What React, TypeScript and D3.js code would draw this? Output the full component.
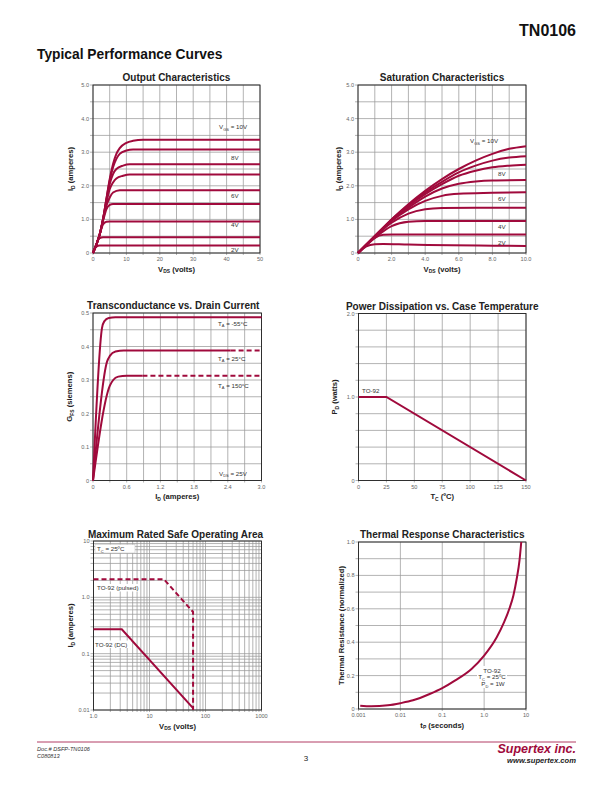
import React from 'react';
import * as d3 from 'd3';

const RED = '#a00a3c';
const GRID = '#999';
const TICK = '#666';
const FONT = '"Liberation Sans", Arial, sans-serif';

type P = [number, number];

// ---------- Output Characteristics (VDS 0..50) ----------
const outX = [0, 10, 20, 30, 40, 50];
const outY = [0, 1, 2, 3, 4, 5];
const out10V: P[] = [[0, 0], [1, 0.25], [2, 0.55], [3, 1.0], [4, 1.6], [5, 2.2], [6, 2.65], [7, 2.95], [8, 3.12], [10, 3.28], [12, 3.34], [15, 3.37], [50, 3.37]];
const out9V: P[] = [[0, 0], [1, 0.25], [2, 0.55], [3, 1.0], [4, 1.6], [5, 2.15], [6, 2.55], [7, 2.8], [8, 2.95], [10, 3.05], [12, 3.08], [50, 3.08]];
const out8V: P[] = [[0, 0], [1, 0.25], [2, 0.55], [3, 1.0], [4, 1.55], [5, 2.05], [6, 2.35], [7, 2.5], [9, 2.6], [11, 2.64], [50, 2.64]];
const out7V: P[] = [[0, 0], [1, 0.25], [2, 0.55], [3, 1.0], [4, 1.5], [5, 1.9], [6, 2.1], [7, 2.22], [9, 2.3], [11, 2.34], [50, 2.34]];
const out6V: P[] = [[0, 0], [1, 0.25], [2, 0.55], [3, 1.0], [4, 1.4], [5, 1.65], [6, 1.8], [8, 1.87], [50, 1.87]];
const out5V: P[] = [[0, 0], [1, 0.25], [2, 0.55], [3, 0.95], [4, 1.3], [5, 1.43], [6, 1.46], [50, 1.46]];
const out4V: P[] = [[0, 0], [1, 0.25], [2, 0.55], [3, 0.85], [4, 0.93], [5, 0.94], [50, 0.94]];
const out3V: P[] = [[0, 0], [1, 0.25], [1.5, 0.38], [2, 0.44], [3, 0.47], [50, 0.47]];
const out2V: P[] = [[0, 0], [0.5, 0.12], [1, 0.19], [2, 0.22], [50, 0.22]];
const outCurves = [out10V, out9V, out8V, out7V, out6V, out5V, out4V, out3V, out2V];

// ---------- Saturation Characteristics (VDS 0..10) ----------
const satX = [0, 2, 4, 6, 8, 10];
const satY = [0, 1, 2, 3, 4, 5];
const sat10V: P[] = [[0, 0], [1, 0.5], [2, 1.0], [3, 1.45], [4, 1.85], [5, 2.2], [6, 2.5], [7, 2.75], [8, 2.95], [9, 3.1], [10, 3.18]];
const sat9V: P[] = [[0, 0], [1, 0.5], [2, 1.0], [3, 1.42], [4, 1.8], [5, 2.12], [6, 2.4], [7, 2.6], [8, 2.75], [9, 2.84], [10, 2.88]];
const sat8V: P[] = [[0, 0], [1, 0.5], [2, 0.98], [3, 1.4], [4, 1.75], [5, 2.05], [6, 2.3], [7, 2.45], [8, 2.55], [9, 2.6], [10, 2.63]];
const sat7V: P[] = [[0, 0], [1, 0.5], [2, 0.97], [3, 1.35], [4, 1.68], [5, 1.92], [6, 2.06], [7, 2.13], [8, 2.16], [10, 2.17]];
const sat6V: P[] = [[0, 0], [1, 0.5], [2, 0.95], [3, 1.3], [4, 1.55], [5, 1.7], [6, 1.76], [8, 1.79], [10, 1.81]];
const sat5V: P[] = [[0, 0], [1, 0.48], [2, 0.9], [3, 1.17], [4, 1.3], [5, 1.34], [7, 1.35], [10, 1.35]];
const sat4V: P[] = [[0, 0], [1, 0.45], [2, 0.8], [3, 0.93], [4, 0.95], [10, 0.95]];
const sat3V: P[] = [[0, 0], [0.5, 0.25], [1, 0.45], [1.5, 0.54], [2, 0.55], [10, 0.55]];
const sat2V: P[] = [[0, 0], [0.5, 0.2], [1, 0.26], [1.5, 0.27], [3, 0.25], [10, 0.21]];
const satCurves = [sat10V, sat9V, sat8V, sat7V, sat6V, sat5V, sat4V, sat3V, sat2V];

// ---------- Transconductance ----------
const gfsX = [0, 0.6, 1.2, 1.8, 2.4, 3.0];
const gfsY = [0, 0.1, 0.2, 0.3, 0.4, 0.5];
const gfsM55: P[] = [[0, 0], [0.16, 0.455], [0.2, 0.475], [0.28, 0.485], [0.4, 0.487], [3.0, 0.487]];
const gfs25: P[] = [[0, 0], [0.25, 0.355], [0.3, 0.372], [0.4, 0.385], [0.55, 0.388], [2.45, 0.388]];
const gfs25Dash: P[] = [[2.45, 0.388], [3.0, 0.388]];
const gfs150: P[] = [[0, 0], [0.3, 0.283], [0.36, 0.3], [0.45, 0.31], [0.6, 0.313], [0.88, 0.313]];
const gfs150Dash: P[] = [[0.88, 0.313], [3.0, 0.313]];

// ---------- Power dissipation ----------
const pdX = [0, 25, 50, 75, 100, 125, 150];
const pdY = [0, 1, 2];
const pdTO92: P[] = [[0, 1.0], [25, 1.0], [150, 0]];

// ---------- SOA ----------
const soaX = [1, 10, 100, 1000];
const soaXLabels = ['1.0', '10', '100', '1000'];
const soaY = [0.01, 0.1, 1, 10];
const soaYLabels = ['0.01', '0.1', '1.0', '10'];
const soaPulsed: P[] = [[1, 2.1], [18, 2.1], [60, 0.55], [60, 0.01]];
const soaDC: P[] = [[1, 0.27], [3.2, 0.27], [60, 0.0108]];

// ---------- Thermal response ----------
const thX = [0.001, 0.01, 0.1, 1, 10];
const thXLabels = ['0.001', '0.01', '0.1', '1.0', '10'];
const thY = [0, 0.2, 0.4, 0.6, 0.8, 1.0];
const thCurve: P[] = [[0.0011, 0.02], [0.002, 0.016], [0.005, 0.022], [0.01, 0.035], [0.02, 0.052], [0.05, 0.09], [0.1, 0.125], [0.2, 0.17], [0.5, 0.24], [1, 0.32], [2, 0.43], [3, 0.52], [4, 0.6], [5, 0.68], [6, 0.78], [7, 0.89], [7.7, 1.0]];

type Box = { l: number; t: number; r: number; b: number };

function Sub({ a, s, b, x, y, size, anchor, weight, transform, fill }: any) {
  return (
    <text x={x} y={y} fontSize={size} textAnchor={anchor || 'start'} fontWeight={weight || 'normal'} transform={transform} fill={fill || '#222'} fontFamily={FONT}>
      {a}
      {s ? <tspan dy={size * 0.25} fontSize={size * 0.65}>{s}</tspan> : null}
      {s ? <tspan dy={-size * 0.25}>{b}</tspan> : b}
    </text>
  );
}

function Panel({ box, xs, ys, xGrid, yGrid, xTicks, yTicks, xFmt, yFmt, title, titleDx = 0, titleDy = -4, xLabel, yLabel, yLabelX, children }: any) {
  const { l, t, r, b } = box as Box;
  const cx = (l + r) / 2;
  const cy = (t + b) / 2;
  return (
    <g>
      {yGrid.map((v: number, i: number) => (
        <line key={'yg' + i} x1={l - 3} x2={r} y1={ys(v)} y2={ys(v)} stroke={GRID} strokeWidth={0.75} />
      ))}
      {xGrid.map((v: number, i: number) => (
        <line key={'xg' + i} x1={xs(v)} x2={xs(v)} y1={t} y2={b + 2} stroke={GRID} strokeWidth={0.75} />
      ))}
      <rect x={l} y={t} width={r - l} height={b - t} fill="none" stroke="#222" strokeWidth={0.9} />
      {children}
      {yTicks.map((v: number, i: number) => (
        <text key={'yt' + i} x={l - 4} y={ys(v) + 2} fontSize={5.6} fill={TICK} textAnchor="end" fontFamily={FONT}>{yFmt(v, i)}</text>
      ))}
      {xTicks.map((v: number, i: number) => (
        <text key={'xt' + i} x={xs(v)} y={b + 8} fontSize={5.6} fill={TICK} textAnchor="middle" fontFamily={FONT}>{xFmt(v, i)}</text>
      ))}
      <text x={cx + titleDx} y={t + titleDy} fontSize={10} fontWeight="bold" textAnchor="middle" fill="#222" fontFamily={FONT}>{title}</text>
      <Sub {...xLabel} x={cx} y={b + 18.5} size={7.6} anchor="middle" weight="bold" />
      <Sub {...yLabel} x={0} y={0} size={7.6} anchor="middle" weight="bold" transform={`translate(${yLabelX},${cy}) rotate(-90)`} />
    </g>
  );
}

const lineGen = (xs: any, ys: any, curve: any = d3.curveMonotoneX) =>
  d3.line<P>().x((d) => xs(d[0])).y((d) => ys(d[1])).curve(curve);

function LabelBg({ x, y, w, h }: any) {
  return <rect x={x} y={y} width={w} height={h} fill="#fff" />;
}

export default function App() {
  const b1: Box = { l: 93, t: 85, r: 260, b: 253 };
  const b2: Box = { l: 358, t: 85, r: 526, b: 253 };
  const b3: Box = { l: 93, t: 313, r: 261.5, b: 480.5 };
  const b4: Box = { l: 358.5, t: 313.5, r: 526, b: 480.5 };
  const b5: Box = { l: 93.5, t: 541, r: 261.5, b: 710 };
  const b6: Box = { l: 358.5, t: 542, r: 526, b: 709 };

  const x1 = d3.scaleLinear().domain([0, 50]).range([b1.l, b1.r]);
  const y1 = d3.scaleLinear().domain([0, 5]).range([b1.b, b1.t]);
  const x2 = d3.scaleLinear().domain([0, 10]).range([b2.l, b2.r]);
  const y2 = d3.scaleLinear().domain([0, 5]).range([b2.b, b2.t]);
  const x3 = d3.scaleLinear().domain([0, 3]).range([b3.l, b3.r]);
  const y3 = d3.scaleLinear().domain([0, 0.5]).range([b3.b, b3.t]);
  const x4 = d3.scaleLinear().domain([0, 150]).range([b4.l, b4.r]);
  const y4 = d3.scaleLinear().domain([0, 2]).range([b4.b, b4.t]);
  const x5 = d3.scaleLog().domain([1, 1000]).range([b5.l, b5.r]);
  const y5 = d3.scaleLog().domain([0.01, 10]).range([b5.b, b5.t]);
  const x6 = d3.scaleLog().domain([0.001, 10]).range([b6.l, b6.r]);
  const y6 = d3.scaleLinear().domain([0, 1]).range([b6.b, b6.t]);

  const l1 = lineGen(x1, y1);
  const l2 = lineGen(x2, y2);
  const l3 = lineGen(x3, y3);
  const l4 = lineGen(x4, y4, d3.curveLinear);
  const l5 = lineGen(x5, y5, d3.curveLinear);
  const l6 = lineGen(x6, y6);

  const fix1 = (v: number) => (v === 0 ? '0' : v.toFixed(1));
  const intF = (v: number) => String(v);
  const logMinor = (lo: number, hi: number) => {
    const out: number[] = [];
    for (let d = lo; d < hi * 0.999; d *= 10) for (let k = 1; k <= 9; k++) out.push(d * k);
    out.push(hi);
    return out;
  };

  const curveStyle = { fill: 'none', stroke: RED, strokeWidth: 2 };
  const noteStyle = { fontSize: 6.2, fill: '#333', fontFamily: FONT };

  return (
    <svg width={612} height={792} style={{ position: 'absolute', left: 0, top: 0, background: '#fff' }}>
      <rect x={0} y={0} width={612} height={792} fill="#fff" />
      <text x={576} y={36} fontSize={16} fontWeight="bold" textAnchor="end" fill="#111" fontFamily={FONT}>TN0106</text>
      <text x={37} y={59} fontSize={13.8} fontWeight="bold" fill="#111" fontFamily={FONT}>Typical Performance Curves</text>

      {/* Output Characteristics */}
      <Panel box={b1} xs={x1} ys={y1} xGrid={d3.range(0, 51, 5)} yGrid={d3.range(0, 5.01, 0.5)} xTicks={outX} yTicks={outY}
        xFmt={intF} yFmt={fix1} title="Output Characteristics"
        xLabel={{ a: 'V', s: 'DS', b: ' (volts)' }} yLabel={{ a: 'I', s: 'D', b: ' (amperes)' }} yLabelX={73}>
        {outCurves.map((c, i) => <path key={i} d={l1(c) || ''} {...curveStyle} />)}
        <Sub a="V" s="GS" b=" = 10V" x={219} y={129} size={6.2} fill="#333" />
        <text x={231} y={160} {...noteStyle}>8V</text>
        <text x={231} y={197.5} {...noteStyle}>6V</text>
        <text x={231} y={227} {...noteStyle}>4V</text>
        <text x={231} y={252} {...noteStyle}>2V</text>
      </Panel>

      {/* Saturation Characteristics */}
      <Panel box={b2} xs={x2} ys={y2} xGrid={d3.range(0, 10.01, 1)} yGrid={d3.range(0, 5.01, 0.5)} xTicks={satX} yTicks={satY}
        xFmt={fix1} yFmt={fix1} title="Saturation Characteristics"
        xLabel={{ a: 'V', s: 'DS', b: ' (volts)' }} yLabel={{ a: 'I', s: 'D', b: ' (amperes)' }} yLabelX={341}>
        {satCurves.map((c, i) => <path key={i} d={l2(c) || ''} {...curveStyle} />)}
        <Sub a="V" s="GS" b=" = 10V" x={470} y={143} size={6.2} fill="#333" />
        <text x={498} y={176} {...noteStyle}>8V</text>
        <text x={498} y={200.5} {...noteStyle}>6V</text>
        <text x={498} y={229} {...noteStyle}>4V</text>
        <text x={498} y={244.5} {...noteStyle}>2V</text>
      </Panel>

      {/* Transconductance */}
      <Panel box={b3} xs={x3} ys={y3} xGrid={d3.range(0, 3.01, 0.3)} yGrid={d3.range(0, 0.501, 0.05)} xTicks={gfsX} yTicks={gfsY}
        xFmt={fix1} yFmt={(v: number) => (v === 0 ? '0' : String(+v.toFixed(1)))} title="Transconductance vs. Drain Current" titleDx={-4}
        xLabel={{ a: 'I', s: 'D', b: ' (amperes)' }} yLabel={{ a: 'G', s: 'FS', b: ' (siemens)' }} yLabelX={72}>
        <path d={l3(gfsM55) || ''} {...curveStyle} />
        <path d={l3(gfs25) || ''} {...curveStyle} />
        <path d={l3(gfs25Dash) || ''} {...curveStyle} strokeDasharray="5,3" />
        <path d={l3(gfs150) || ''} {...curveStyle} />
        <path d={l3(gfs150Dash) || ''} {...curveStyle} strokeDasharray="5,3" />
        <Sub a="T" s="A" b=" = -55°C" x={218} y={325.5} size={6.2} fill="#333" />
        <Sub a="T" s="A" b=" = 25°C" x={218} y={360.5} size={6.2} fill="#333" />
        <Sub a="T" s="A" b=" = 150°C" x={218} y={387.5} size={6.2} fill="#333" />
        <Sub a="V" s="DS" b=" = 25V" x={219} y={475.5} size={6.2} fill="#333" />
      </Panel>

      {/* Power Dissipation */}
      <Panel box={b4} xs={x4} ys={y4} xGrid={d3.range(0, 151, 25)} yGrid={d3.range(0, 2.01, 0.2)} xTicks={pdX} yTicks={pdY}
        xFmt={intF} yFmt={(v: number) => (v === 0 ? '0' : v.toFixed(1))} title="Power Dissipation vs. Case Temperature"
        xLabel={{ a: 'T', s: 'C', b: ' (ºC)' }} yLabel={{ a: 'P', s: 'D', b: ' (watts)' }} yLabelX={337}>
        <path d={l4(pdTO92) || ''} {...curveStyle} />
        <text x={362} y={393} {...noteStyle}>TO-92</text>
      </Panel>

      {/* SOA */}
      <Panel box={b5} xs={x5} ys={y5} xGrid={logMinor(1, 1000)} yGrid={logMinor(0.01, 10)} xTicks={soaX} yTicks={soaY}
        xFmt={(_: number, i: number) => soaXLabels[i]} yFmt={(_: number, i: number) => soaYLabels[i]}
        title="Maximum Rated Safe Operating Area" titleDx={-2} titleDy={-3}
        xLabel={{ a: 'V', s: 'DS', b: ' (volts)' }} yLabel={{ a: 'I', s: 'D', b: ' (amperes)' }} yLabelX={73}>
        <LabelBg x={95} y={544.5} w={40} h={8.5} />
        <rect x={95} y={544.5} width={40} height={8.5} fill="none" stroke="#bbb" strokeWidth={0.5} />
        <Sub a="T" s="C" b=" = 25ºC" x={97} y={551} size={6.2} fill="#333" />
        <path d={l5(soaPulsed) || ''} {...curveStyle} strokeDasharray="5,3" />
        <path d={l5(soaDC) || ''} {...curveStyle} />
        <LabelBg x={96} y={584} w={44} h={7.5} />
        <text x={97} y={590} {...noteStyle}>TO-92 (pulsed)</text>
        <LabelBg x={94.5} y={640.5} w={36} h={7.5} />
        <text x={95} y={646.5} {...noteStyle}>TO-92 (DC)</text>
      </Panel>

      {/* Thermal response */}
      <Panel box={b6} xs={x6} ys={y6} xGrid={thX} yGrid={d3.range(0, 1.001, 0.1)} xTicks={thX} yTicks={thY}
        xFmt={(_: number, i: number) => thXLabels[i]} yFmt={(v: number) => (v === 0 ? '0' : v.toFixed(1))}
        title="Thermal Response Characteristics" titleDy={-4.5}
        xLabel={{ a: 't', s: 'P', b: ' (seconds)' }} yLabel={{ a: 'Thermal Resistance (normalized)', s: '', b: '' }} yLabelX={344}>
        <path d={l6(thCurve) || ''} {...curveStyle} />
        <LabelBg x={477} y={666} w={30} h={22} />
        <text x={492} y={672.5} {...noteStyle} textAnchor="middle">TO-92</text>
        <Sub a="T" s="C" b=" = 25ºC" x={492} y={679} size={6.2} fill="#333" anchor="middle" />
        <Sub a="P" s="D" b=" = 1W" x={493} y={686} size={6.2} fill="#333" anchor="middle" />
      </Panel>

      {/* Footer */}
      <line x1={37} x2={576} y1={742} y2={742} stroke={RED} strokeWidth={0.8} />
      <text x={37} y={750.5} fontSize={5.6} fontStyle="italic" fill="#333" fontFamily={FONT}>Doc.# DSFP-TN0106</text>
      <text x={37} y={757.5} fontSize={5.6} fontStyle="italic" fill="#333" fontFamily={FONT}>C080813</text>
      <text x={306} y={761} fontSize={8} textAnchor="middle" fill="#222" fontFamily={FONT}>3</text>
      <text x={576} y={753} fontSize={12.5} fontWeight="bold" fontStyle="italic" textAnchor="end" fill={RED} fontFamily={FONT}>Supertex inc.</text>
      <text x={576} y={763} fontSize={7.6} fontWeight="bold" fontStyle="italic" textAnchor="end" fill="#222" fontFamily={FONT}>www.supertex.com</text>
    </svg>
  );
}
